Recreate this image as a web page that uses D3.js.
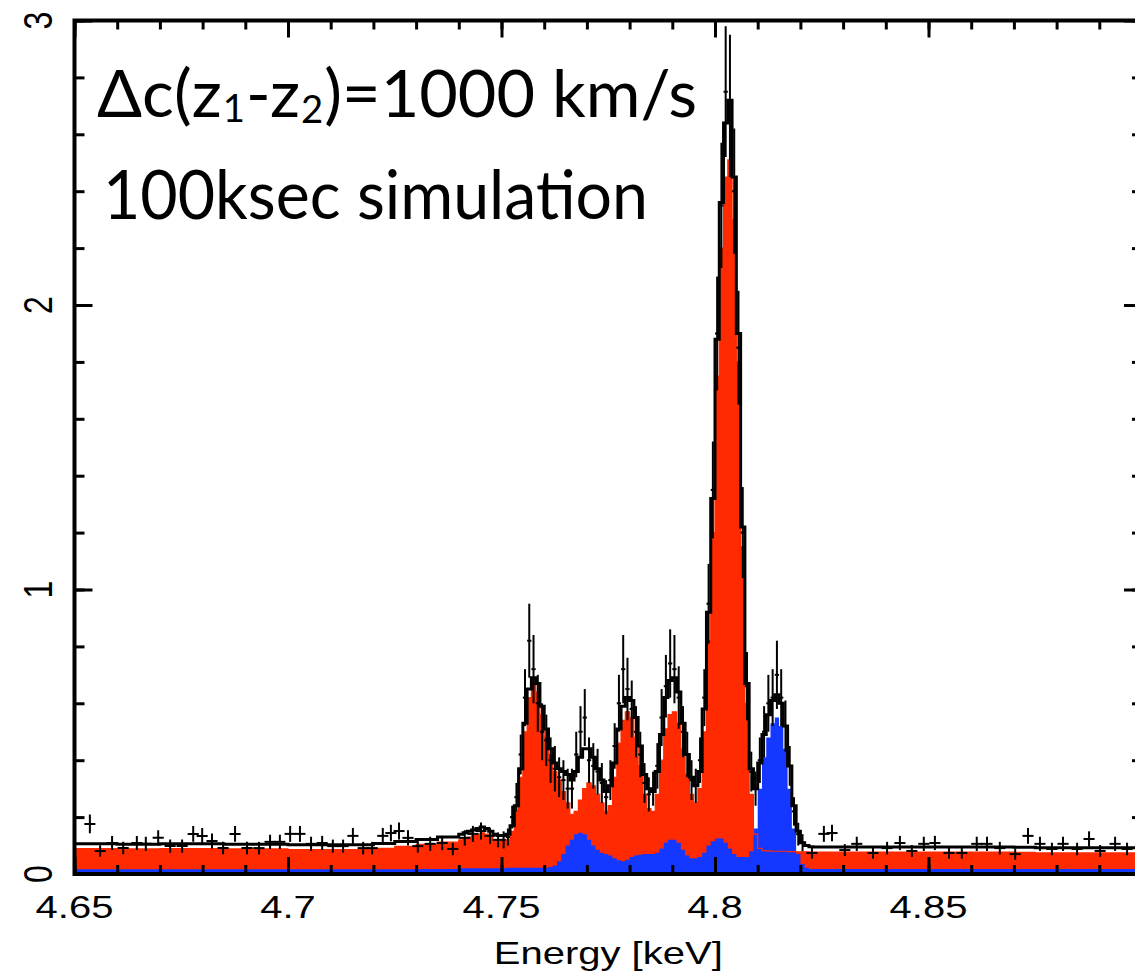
<!DOCTYPE html>
<html><head><meta charset="utf-8">
<script src="https://cdn.jsdelivr.net/npm/d3@7"></script>
<style>body{margin:0;background:#fff}</style>
</head><body><svg id="c" width="1135" height="975"></svg>
<script>
// ---------- model grid (bin left edges, keV) ----------
const modelEnergy = [
 4.650,4.655,4.660,4.665,4.670,4.675,4.680,4.685,4.690,4.695,4.700,4.705,4.710,4.715,4.720,4.725,4.730,4.735,
 4.740,4.741,4.742,4.743,4.744,4.745,4.746,4.747,4.748,4.749,4.750,4.751,4.752,4.753,4.754,4.755,4.756,4.757,4.758,4.759,
 4.760,4.761,4.762,4.763,4.764,4.765,4.766,4.767,4.768,4.769,4.770,4.771,4.772,4.773,4.774,4.775,4.776,4.777,4.778,4.779,
 4.780,4.781,4.782,4.783,4.784,4.785,4.786,4.787,4.788,4.789,4.790,4.791,4.792,4.793,4.794,4.795,4.796,4.797,4.798,4.799,
 4.800,4.801,4.802,4.803,4.804,4.805,4.806,4.807,4.808,4.809,4.810,4.811,4.812,4.813,4.814,4.815,4.816,4.817,4.818,4.819,
 4.820,4.821,4.822,4.823,4.824,
 4.825,4.830,4.835,4.840,4.845,4.850,4.855,4.860,4.865,4.870,4.875,4.880,4.885,4.890,4.895,4.900];

// red component (z1)
const redModel = [
 0.089,0.089,0.088,0.088,0.089,0.089,0.089,0.088,0.088,0.088,0.086,0.086,0.086,0.086,0.090,0.097,0.104,0.112,
 0.12,0.125,0.13,0.135,0.14,0.145,0.14,0.13,0.12,0.115,0.115,0.12,0.15,0.22,0.34,0.5,0.62,0.67,0.64,0.56,
 0.48,0.42,0.36,0.33,0.29,0.25,0.21,0.22,0.26,0.3,0.32,0.31,0.28,0.25,0.22,0.24,0.34,0.46,0.54,0.57,
 0.55,0.48,0.38,0.28,0.23,0.22,0.28,0.4,0.51,0.56,0.57,0.53,0.44,0.35,0.28,0.25,0.3,0.5,0.82,1.2,
 1.75,2.2,2.45,2.51,2.3,1.8,1.15,0.6,0.28,0.14,0.09,0.082,0.081,0.08,0.08,0.08,0.08,0.079,0.079,0.078,
 0.078,0.078,0.077,0.077,0.077,
 0.077,0.077,0.077,0.077,0.077,0.077,0.077,0.077,0.077,0.076,0.074,0.074,0.074,0.074,0.074,0.074];

// blue component (z2)
const blueModel = [
 0.017,0.017,0.017,0.017,0.017,0.017,0.017,0.017,0.017,0.017,0.017,0.017,0.017,0.017,0.017,0.017,0.018,0.018,
 0.02,0.02,0.02,0.02,0.02,0.02,0.02,0.02,0.02,0.02,0.02,0.022,0.022,0.022,0.022,0.022,0.022,0.022,0.022,0.022,
 0.022,0.025,0.03,0.045,0.07,0.1,0.12,0.14,0.145,0.14,0.12,0.1,0.085,0.075,0.07,0.065,0.055,0.048,0.045,0.05,
 0.06,0.065,0.068,0.07,0.07,0.07,0.075,0.09,0.11,0.12,0.12,0.11,0.085,0.065,0.055,0.055,0.06,0.075,0.1,0.115,
 0.125,0.125,0.11,0.09,0.07,0.06,0.06,0.06,0.08,0.16,0.3,0.41,0.48,0.53,0.55,0.52,0.44,0.3,0.16,0.07,
 0.035,0.022,0.018,0.018,0.018,
 0.018,0.018,0.018,0.018,0.018,0.018,0.018,0.018,0.018,0.018,0.018,0.018,0.018,0.018,0.018,0.018];

// total model (black step line)
const totalModel = [
 0.106,0.106,0.105,0.105,0.106,0.106,0.106,0.105,0.105,0.105,0.103,0.103,0.103,0.103,0.107,0.114,0.121,0.13,
 0.14,0.145,0.15,0.155,0.16,0.165,0.16,0.15,0.14,0.135,0.135,0.14,0.17,0.24,0.37,0.53,0.65,0.69,0.67,0.59,
 0.51,0.44,0.39,0.37,0.36,0.35,0.33,0.36,0.41,0.44,0.44,0.41,0.37,0.33,0.29,0.31,0.39,0.51,0.59,0.62,
 0.61,0.55,0.45,0.35,0.3,0.29,0.36,0.49,0.62,0.68,0.69,0.64,0.53,0.42,0.34,0.31,0.36,0.58,0.92,1.32,
 1.88,2.36,2.64,2.72,2.45,1.9,1.22,0.67,0.37,0.3,0.39,0.49,0.56,0.61,0.63,0.6,0.52,0.38,0.24,0.15,
 0.11,0.1,0.096,0.095,0.095,
 0.095,0.095,0.095,0.095,0.095,0.095,0.095,0.095,0.095,0.094,0.092,0.092,0.092,0.092,0.092,0.092];

// ---------- simulated data (crosses) ----------
const contLeftEnergy = [4.6536,4.6560,4.6588,4.6614,4.6646,4.6667,4.6696,4.6724,4.6752,4.6778,4.6799,4.6822,4.6848,4.6876,4.6904,4.6932,4.6958,4.6981,4.7005,4.7028,4.7054,4.7080,4.7105,4.7129,4.7152,4.7176,4.7197,4.7222,4.7241,4.7260,4.7281,4.7304,4.7333,4.7361,4.7386,4.7414,4.7433,4.7452,4.7473,4.7492];
const contLeftRate   = [0.176,0.081,0.109,0.091,0.109,0.106,0.127,0.098,0.098,0.141,0.134,0.116,0.091,0.141,0.091,0.091,0.113,0.113,0.141,0.141,0.106,0.109,0.098,0.098,0.134,0.091,0.091,0.134,0.144,0.151,0.127,0.098,0.106,0.109,0.088,0.127,0.141,0.151,0.134,0.120];
const contLeftErr    = [0.033,0.02,0.025,0.022,0.025,0.025,0.027,0.023,0.023,0.028,0.028,0.026,0.022,0.028,0.022,0.022,0.025,0.025,0.028,0.028,0.025,0.025,0.023,0.023,0.028,0.022,0.022,0.028,0.029,0.03,0.027,0.023,0.025,0.025,0.022,0.027,0.028,0.03,0.028,0.026];

const lineEnergy = [4.7505,4.7515,4.7525,4.7535,4.7545,4.7555,4.7565,4.7575,4.7585,4.7595,4.7605,4.7615,4.7625,4.7635,4.7645,4.7655,4.7665,4.7675,4.7685,4.7695,4.7705,4.7715,4.7725,4.7735,4.7745,4.7755,4.7765,4.7775,4.7785,4.7795,4.7805,4.7815,4.7825,4.7835,4.7845,4.7855,4.7865,4.7875,4.7885,4.7895,4.7905,4.7915,4.7925,4.7935,4.7945,4.7955,4.7965,4.7975,4.7985,4.7995,4.8005,4.8015,4.8025,4.8035,4.8045,4.8055,4.8065,4.8075,4.8085,4.8095,4.8105,4.8115,4.8125,4.8135,4.8145,4.8155,4.8165,4.8175,4.8185,4.8195,4.8205];
const lineRate   = [0.12,0.13,0.2,0.27,0.42,0.62,0.82,0.72,0.6,0.5,0.47,0.4,0.37,0.34,0.33,0.3,0.3,0.42,0.5,0.55,0.4,0.38,0.36,0.32,0.27,0.33,0.45,0.6,0.72,0.65,0.58,0.5,0.42,0.32,0.28,0.3,0.38,0.55,0.66,0.74,0.72,0.62,0.5,0.42,0.33,0.31,0.4,0.62,0.95,1.35,1.9,2.35,2.75,2.7,2.4,1.85,1.2,0.66,0.36,0.3,0.4,0.5,0.6,0.62,0.7,0.62,0.52,0.38,0.22,0.14,0.11];
const lineErr    = [0.03,0.03,0.04,0.05,0.07,0.1,0.13,0.12,0.1,0.1,0.09,0.08,0.08,0.07,0.07,0.07,0.07,0.08,0.09,0.1,0.08,0.08,0.08,0.07,0.06,0.07,0.08,0.1,0.12,0.11,0.1,0.09,0.08,0.07,0.06,0.06,0.08,0.1,0.11,0.12,0.12,0.11,0.09,0.08,0.07,0.06,0.08,0.1,0.14,0.17,0.2,0.22,0.23,0.25,0.22,0.2,0.16,0.12,0.07,0.06,0.08,0.09,0.1,0.1,0.12,0.1,0.09,0.07,0.05,0.04,0.03];

const contRightEnergy = [4.8227,4.8255,4.8274,4.8304,4.8332,4.8370,4.8403,4.8433,4.8461,4.8489,4.8515,4.8548,4.8578,4.8613,4.8637,4.8667,4.8703,4.8733,4.8761,4.8789,4.8815,4.8848,4.8876,4.8902,4.8937,4.8965];
const contRightRate   = [0.074,0.141,0.144,0.084,0.106,0.074,0.091,0.109,0.081,0.106,0.109,0.074,0.074,0.106,0.106,0.091,0.070,0.134,0.106,0.088,0.106,0.088,0.123,0.081,0.106,0.088];
const contRightErr    = [0.02,0.028,0.029,0.021,0.025,0.02,0.022,0.025,0.021,0.025,0.025,0.02,0.02,0.025,0.025,0.022,0.02,0.028,0.025,0.022,0.025,0.022,0.027,0.021,0.025,0.022];

const contHalfWidth = 0.0013, lineHalfWidth = 0.0005;

// ---------- axes labels ----------
const xMajorTicks = [4.65,4.7,4.75,4.8,4.85,4.9];
const xTickLabels = ["4.65","4.7","4.75","4.8","4.85"];
const yMajorTicks = [0,1,2,3];
const yTickLabels = ["0","1","2","3"];
const xTitle = "Energy [keV]";

// ---------- drawing ----------
const W = 1135, H = 975;
const x = d3.scaleLinear().domain([4.65, 4.9]).range([74.5, 1142]);
const y = d3.scaleLinear().domain([0, 3]).range([874, 20.5]);
const svg = d3.select('#c');
svg.append('rect').attr('width', W).attr('height', H).attr('fill', '#fff');

svg.append('clipPath').attr('id', 'clip').append('rect')
  .attr('x', x(4.65)).attr('y', y(3)).attr('width', x(4.9) - x(4.65)).attr('height', y(0) - y(3));
const g = svg.append('g').attr('clip-path', 'url(#clip)');

const idx = d3.range(modelEnergy.length);
const areaOf = arr => d3.area().x(i => x(modelEnergy[i])).y0(y(0)).y1(i => y(arr[i])).curve(d3.curveStepAfter);
const lineOf = arr => d3.line().x(i => x(modelEnergy[i])).y(i => y(arr[i])).curve(d3.curveStepAfter);

const RED = '#ff2a00', BLUE = '#1438ff';
g.append('path').datum(idx).attr('d', areaOf(redModel)).attr('fill', RED);
g.append('path').datum(idx).attr('d', areaOf(blueModel)).attr('fill', BLUE);
g.append('path').datum(idx).attr('d', lineOf(redModel)).attr('fill', 'none').attr('stroke', RED).attr('stroke-width', 1.2);

function crosses(E, R, Er, hw, sw) {
  const pts = d3.range(E.length);
  const cg = g.append('g').attr('stroke', '#000').attr('stroke-width', sw);
  cg.selectAll(null).data(pts).join('line')
    .attr('x1', i => x(E[i])).attr('x2', i => x(E[i]))
    .attr('y1', i => y(R[i] - Er[i])).attr('y2', i => y(R[i] + Er[i]));
  cg.selectAll(null).data(pts).join('line')
    .attr('x1', i => x(E[i] - hw)).attr('x2', i => x(E[i] + hw))
    .attr('y1', i => y(R[i])).attr('y2', i => y(R[i]));
}
crosses(contLeftEnergy, contLeftRate, contLeftErr, contHalfWidth, 2);
crosses(lineEnergy, lineRate, lineErr, lineHalfWidth, 2);
crosses(contRightEnergy, contRightRate, contRightErr, contHalfWidth, 2);

g.append('path').datum(idx).attr('d', lineOf(totalModel)).attr('fill', 'none').attr('stroke', '#000').attr('stroke-width', 3);

// frame
svg.append('rect').attr('x', x(4.65)).attr('y', y(3)).attr('width', x(4.9) - x(4.65)).attr('height', y(0) - y(3))
  .attr('fill', 'none').attr('stroke', '#000').attr('stroke-width', 4);

function ticks(axisGen, tr, vals, size) {
  const a = svg.append('g').attr('transform', tr)
    .call(axisGen.tickValues(vals).tickSize(size).tickFormat(''));
  a.select('.domain').remove();
  a.selectAll('line').attr('stroke', '#000').attr('stroke-width', 3);
}
const xMinor = x.ticks(25), yMinor = y.ticks(15);
ticks(d3.axisBottom(x), `translate(0,${y(0)})`, xMinor, -9);
ticks(d3.axisBottom(x), `translate(0,${y(0)})`, xMajorTicks, -17);
ticks(d3.axisTop(x), `translate(0,${y(3)})`, xMinor, -9);
ticks(d3.axisTop(x), `translate(0,${y(3)})`, xMajorTicks, -17);
ticks(d3.axisLeft(y), `translate(${x(4.65)},0)`, yMinor, -10);
ticks(d3.axisLeft(y), `translate(${x(4.65)},0)`, yMajorTicks, -18);
ticks(d3.axisRight(y), `translate(${x(4.9)},0)`, yMinor, -10);
ticks(d3.axisRight(y), `translate(${x(4.9)},0)`, yMajorTicks, -18);

const LF = '"Liberation Sans", Arial, Helvetica, sans-serif';
svg.selectAll(null).data(xTickLabels).join('text')
  .attr('transform', (d, i) => `translate(${x(xMajorTicks[i])},918) scale(1.25,1)`)
  .attr('text-anchor', 'middle').attr('font-family', LF).attr('font-size', 32).attr('fill', '#000')
  .text(d => d);
svg.selectAll(null).data(yTickLabels).join('text')
  .attr('transform', (d, i) => `translate(52,${y(yMajorTicks[i])}) scale(1.25,1) rotate(-90)`)
  .attr('text-anchor', 'middle').attr('font-family', LF).attr('font-size', 32).attr('fill', '#000')
  .text(d => d);
svg.append('text').attr('transform', `translate(${x(4.775)},964) scale(1.25,1)`)
  .attr('text-anchor', 'middle').attr('font-family', LF).attr('font-size', 32).attr('fill', '#000')
  .text(xTitle);

// annotations
const TF = 'Lato, "Open Sans", sans-serif';
const t1 = svg.append('text').attr('x', 97).attr('y', 117).attr('font-family', TF).attr('font-size', 66)
  .attr('fill', '#000').attr('textLength', 600).attr('lengthAdjust', 'spacingAndGlyphs');
t1.append('tspan').text('Δc(z');
t1.append('tspan').attr('font-size', 38).attr('dx', 1).attr('dy', 5).text('1');
t1.append('tspan').attr('dx', 1).attr('dy', -5).text('-z');
t1.append('tspan').attr('font-size', 38).attr('dx', 1).attr('dy', 6).text('2');
t1.append('tspan').attr('dx', 1).attr('dy', -6).text(')=1000 km/s');
svg.append('text').attr('x', 103).attr('y', 219).attr('font-family', TF).attr('font-size', 68)
  .attr('fill', '#000').attr('textLength', 545).attr('lengthAdjust', 'spacingAndGlyphs')
  .text('100ksec simulation');
</script></body></html>
